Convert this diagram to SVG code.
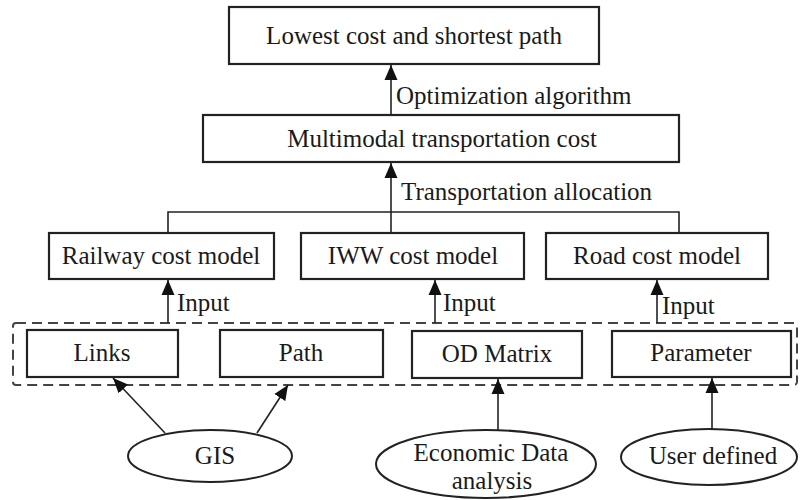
<svg xmlns="http://www.w3.org/2000/svg" width="800" height="500" viewBox="0 0 800 500">
  <style>
    .box { fill: #ffffff; stroke: #222; stroke-width: 2.2; }
    .ell { fill: #ffffff; stroke: #222; stroke-width: 2; }
    .t { font-family: "Liberation Serif", "Times New Roman", serif; font-size: 25px; fill: #1a1a1a; text-anchor: middle; }
    .lbl { font-family: "Liberation Serif", "Times New Roman", serif; font-size: 25px; fill: #1a1a1a; }
    .ln { fill: none; stroke: #222; stroke-width: 1.6; }
    .arr { fill: none; stroke: #222; stroke-width: 1.6; marker-end: url(#head); }
    .dash { fill: none; stroke: #444; stroke-width: 2; stroke-dasharray: 10 6; }
  </style>
  <defs>
    <marker id="head" viewBox="0 0 15 14" refX="15" refY="7" markerWidth="15" markerHeight="14" markerUnits="userSpaceOnUse" orient="auto">
      <path d="M0,0.5 L15,7 L0,13.5 Z" fill="#111"/>
    </marker>
  </defs>

  <rect width="800" height="500" fill="#ffffff"/>

  <!-- data input frame -->
  <rect class="dash" x="13" y="323" width="784" height="62" rx="3"/>

  <g id="connectors">
    <line class="arr" x1="391" y1="115" x2="391" y2="65"/>
    <line class="arr" x1="391" y1="233" x2="391" y2="163"/>
    <polyline class="ln" points="168,233 168,212 679,212 679,233"/>
    <line class="arr" x1="168" y1="323" x2="168" y2="280"/>
    <line class="arr" x1="435" y1="323" x2="435" y2="280"/>
    <line class="arr" x1="657" y1="323" x2="657" y2="280"/>
    <line class="arr" x1="165" y1="433" x2="113" y2="378"/>
    <line class="arr" x1="257" y1="433" x2="288" y2="385"/>
    <line class="arr" x1="498" y1="430" x2="498" y2="379"/>
    <line class="arr" x1="712" y1="430" x2="712" y2="378"/>
    <text class="lbl" x="396" y="104">Optimization algorithm</text>
    <text class="lbl" x="401" y="200">Transportation allocation</text>
    <text class="lbl" x="177" y="311">Input</text>
    <text class="lbl" x="443" y="311">Input</text>
    <text class="lbl" x="662" y="314">Input</text>
  </g>

  <g id="result">
    <rect class="box" x="229" y="7" width="370" height="57"/>
    <text class="t" x="414" y="44">Lowest cost and shortest path</text>
  </g>
  <g id="multimodal-cost">
    <rect class="box" x="203" y="115" width="476" height="47"/>
    <text class="t" x="442" y="147">Multimodal transportation cost</text>
  </g>
  <g id="railway-model">
    <rect class="box" x="49" y="233" width="225" height="46"/>
    <text class="t" x="161" y="264">Railway cost model</text>
  </g>
  <g id="iww-model">
    <rect class="box" x="301" y="233" width="223" height="46"/>
    <text class="t" x="413" y="264">IWW cost model</text>
  </g>
  <g id="road-model">
    <rect class="box" x="546" y="233" width="222" height="46"/>
    <text class="t" x="657" y="264">Road cost model</text>
  </g>
  <g id="links">
    <rect class="box" x="27" y="330" width="151" height="47"/>
    <text class="t" x="102" y="361">Links</text>
  </g>
  <g id="path">
    <rect class="box" x="220" y="330" width="163" height="47"/>
    <text class="t" x="301" y="361">Path</text>
  </g>
  <g id="od-matrix">
    <rect class="box" x="412" y="331" width="170" height="47"/>
    <text class="t" x="497" y="362">OD Matrix</text>
  </g>
  <g id="parameter">
    <rect class="box" x="612" y="331" width="179" height="46"/>
    <text class="t" x="701" y="361">Parameter</text>
  </g>
  <g id="gis">
    <ellipse class="ell" cx="210" cy="456" rx="82" ry="26"/>
    <text class="t" x="215" y="464">GIS</text>
  </g>
  <g id="economic-data">
    <ellipse class="ell" cx="486" cy="464" rx="110" ry="34"/>
    <text class="t" x="491" y="461">Economic Data</text>
    <text class="t" x="492" y="489">analysis</text>
  </g>
  <g id="user-defined">
    <ellipse class="ell" cx="709" cy="457" rx="88" ry="28"/>
    <text class="t" x="713" y="464">User defined</text>
  </g>
</svg>
